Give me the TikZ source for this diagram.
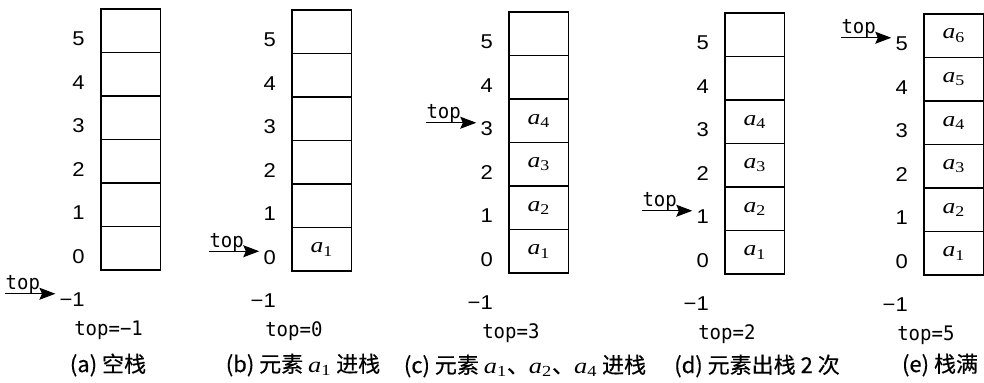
\documentclass[tikz,border=0pt]{standalone}
\usepackage{fontspec}
\setmainfont{Liberation Serif}[FakeStretch=1.2]
\newfontfamily\idxfont{Liberation Sans}[FakeStretch=1.1]
\newfontfamily\topfont{DejaVu Sans Mono}[FakeStretch=0.95]
\newfontfamily\cjkfont{Noto Sans CJK SC}[FakeBold=0.4]
\usetikzlibrary{arrows.meta,calc}

\newcommand{\elem}[1]{{\rmfamily\itshape a}{\rmfamily\textsubscript{#1}}}

\tikzset{
  cell/.style={draw, line width=0.8pt, minimum width=44.6pt, minimum height=32.6pt,
    inner sep=0pt, font=\fontsize{16}{18}\selectfont},
  idx/.style={anchor=east, inner sep=0pt, font=\idxfont\fontsize{15}{17}\selectfont},
  toptext/.style={inner sep=0pt, font=\topfont\fontsize{15}{17}\selectfont},
  toparrow/.style={line width=0.8pt, -{Stealth[length=12pt, width=9pt, inset=2pt]}},
  capt/.style={inner sep=0pt, font=\cjkfont\fontsize{16.5}{20}\selectfont}
}

\begin{document}
\begin{tikzpicture}[x=0.75pt, y=-0.75pt]
  \useasboundingbox (0,0) rectangle (984,382);

  % one stack per entry: name/left/top/filled cells/pointer/top value
  \foreach \name/\lx/\ty/\cnt/\ptr/\val in {a/101/9/0/-1/−1, b/292/10/1/0/0,
      c/509/12/4/3/3, d/725/13/4/1/2, e/924/14/6/5/5} {
    \foreach \i in {0,...,5} {
      \pgfmathtruncatemacro\k{\i+1}
      \node[cell] (c\name\i) at (\lx+29.75, \ty+239.25-43.5*\i)
        {\ifnum\i<\cnt\relax\elem{\k}\fi};
    }
    \foreach \i in {-1,...,5}
      \node[idx] (i\name\i) at (\lx-16, \ty+247.25-43.5*\i)
        {\ifnum\i<0 −1\else\i\fi};

    \coordinate (e\name) at ($(i\name\ptr.west)+(-4,-6)$);
    \coordinate (s\name) at ($(e\name)+(-50,0)$);
    \node[toptext, anchor=base west] (t\name) at ($(s\name)+(0,-4)$) {top};
    \draw[toparrow] (s\name) -- (e\name);

    \node[toptext, anchor=west] (v\name) at (\lx-27, \ty+321) {top=\val};
  }

  \node[capt] (capa) at (108,365) {(a) 空栈};
  \node[capt] (capb) at (303,365) {(b) 元素 \elem{1} 进栈};
  \node[capt] (capc) at (525,366) {(c) 元素 \elem{1}、\elem{2}、\elem{4} 进栈};
  \node[capt] (capd) at (757,366) {(d) 元素出栈 2 次};
  \node[capt] (cape) at (940,365) {(e) 栈满};
\end{tikzpicture}
\end{document}
